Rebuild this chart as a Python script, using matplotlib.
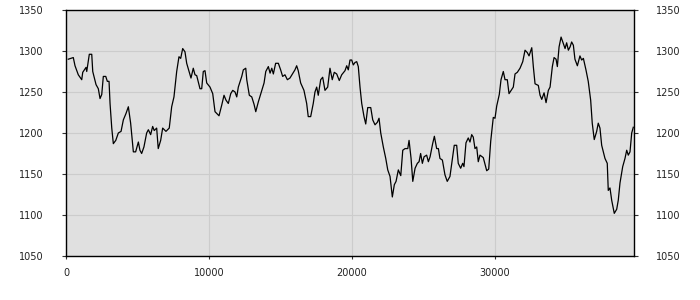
import matplotlib
matplotlib.use("Agg")
import matplotlib.pyplot as plt

# values
xs = [160, 510, 630, 860, 1100, 1170, 1400, 1450, 1630, 1800,
      1870, 2100, 2260, 2380, 2500, 2610, 2780, 2890, 3010, 3080,
      3200, 3310, 3480, 3660, 3850, 4010, 4200, 4360, 4520, 4710,
      4870, 5060, 5170, 5290, 5450, 5640, 5760, 5920, 6060, 6170,
      6340, 6450, 6620, 6760, 6990, 7220, 7390, 7550, 7740, 7900,
      8020, 8160, 8320, 8440, 8740, 8900, 9020, 9140, 9370, 9490,
      9600, 9720, 9840, 10070, 10260, 10420, 10700, 10890, 11050, 11190,
      11350, 11520, 11660, 11820, 11940, 12050, 12290, 12400, 12570, 12640,
      12820, 12990, 13150, 13270, 13450, 13690, 13850, 13970, 14150, 14270,
      14390, 14500, 14660, 14850, 15010, 15150, 15310, 15480, 15660, 16010,
      16130, 16240, 16410, 16640, 16830, 16940, 17110, 17290, 17410, 17530,
      17640, 17810, 17950, 18110, 18300, 18460, 18620, 18760, 18930, 19110,
      19280, 19510, 19630, 19740, 19860, 19980, 20090, 20210, 20330, 20440,
      20560, 20680, 20840, 20960, 21100, 21310, 21450, 21610, 21770, 21890,
      22010, 22190, 22360, 22500, 22660, 22820, 22960, 23080, 23240, 23410,
      23550, 23710, 23900, 23990, 24130, 24250, 24410, 24570, 24690, 24800,
      24920, 25040, 25220, 25340, 25460, 25640, 25760, 25920, 26040, 26150,
      26320, 26500, 26660, 26850, 27010, 27150, 27320, 27430, 27600, 27740,
      27830, 27970, 28130, 28250, 28370, 28480, 28600, 28720, 28830, 28950,
      29180, 29420, 29560, 29700, 29880, 30000, 30120, 30300, 30420, 30580,
      30700, 30860, 30980, 31170, 31280, 31400, 31560, 31750, 31940, 32100,
      32260, 32380, 32570, 32680, 32800, 33030, 33150, 33270, 33430, 33570,
      33730, 33850, 34010, 34130, 34270, 34360, 34480, 34620, 34780, 34900,
      35010, 35130, 35250, 35360, 35480, 35590, 35760, 35940, 36060, 36180,
      36360, 36520, 36690, 36800, 36940, 37110, 37220, 37340, 37460, 37690,
      37850, 37920, 38040, 38160, 38340, 38510, 38620, 38740, 38930, 39090,
      39210, 39320, 39440, 39560, 39670]
ys = [1290, 1292, 1282, 1271, 1265, 1274, 1280, 1275, 1296, 1296,
      1275, 1259, 1254, 1242, 1247, 1269, 1269, 1263, 1263, 1236,
      1206, 1187, 1191, 1200, 1202, 1216, 1224, 1232, 1212, 1177,
      1177, 1189, 1179, 1175, 1183, 1200, 1204, 1198, 1208, 1203,
      1206, 1181, 1191, 1206, 1202, 1206, 1232, 1244, 1275, 1293,
      1291, 1303, 1299, 1285, 1267, 1279, 1271, 1270, 1254, 1254,
      1275, 1276, 1261, 1256, 1248, 1226, 1221, 1234, 1246, 1240,
      1236, 1248, 1252, 1250, 1244, 1256, 1269, 1277, 1279, 1265,
      1246, 1244, 1235, 1226, 1238, 1252, 1261, 1275, 1281, 1273,
      1279, 1272, 1285, 1285, 1277, 1269, 1271, 1265, 1267, 1277,
      1282, 1276, 1261, 1252, 1236, 1220, 1220, 1236, 1250, 1256,
      1246, 1265, 1268, 1252, 1256, 1279, 1265, 1274, 1272, 1264,
      1271, 1276, 1282, 1277, 1289, 1289, 1283, 1286, 1287, 1281,
      1256, 1236, 1220, 1211, 1231, 1231, 1216, 1210, 1213, 1218,
      1200, 1183, 1169, 1155, 1147, 1122, 1137, 1141, 1155, 1148,
      1179, 1181, 1181, 1191, 1169, 1141, 1157, 1163, 1165, 1175,
      1163, 1171, 1173, 1165, 1171, 1187, 1196, 1181, 1181, 1169,
      1167, 1149, 1141, 1147, 1167, 1185, 1185, 1163, 1157, 1163,
      1159, 1188, 1194, 1189, 1198, 1195, 1181, 1183, 1165, 1173,
      1170, 1154, 1156, 1190, 1219, 1218, 1233, 1247, 1265, 1275,
      1265, 1265, 1248, 1253, 1256, 1272, 1274, 1279, 1287, 1301,
      1298, 1294, 1304, 1281, 1260, 1258, 1246, 1241, 1249, 1237,
      1252, 1256, 1281, 1292, 1290, 1281, 1305, 1317, 1309, 1303,
      1310, 1301, 1305, 1311, 1307, 1290, 1282, 1294, 1289, 1291,
      1277, 1263, 1240, 1212, 1192, 1202, 1212, 1206, 1185, 1169,
      1163, 1130, 1133, 1118, 1102, 1107, 1118, 1139, 1159, 1169,
      1179, 1173, 1177, 1200, 1207]

xticks = [0, 10000, 20000, 30000]
yticks = [1050, 1100, 1150, 1200, 1250, 1300, 1350]

fig = plt.figure(figsize=(7, 3), dpi=100)
ax = fig.add_axes([66 / 700, 44 / 300, 568 / 700, 246 / 300])
ax.set_facecolor("#e0e0e0")
ax.plot(xs, ys, color="black", linewidth=0.9)

ax.set_xlim(0, 39720)
ax.set_ylim(1050, 1350)
ax.set_xticks(xticks)
ax.set_yticks(yticks)
ax.grid(True, color="#cccccc", linewidth=0.8)
ax.set_axisbelow(True)

ax.tick_params(axis="both", direction="out", width=0.8,
               colors="#333333", labelsize=7, labelcolor="#222222")
ax.tick_params(axis="y", left=True, right=True, labelleft=True,
               labelright=True, length=3, pad=13)
ax.tick_params(axis="x", length=2, pad=7)
for s in ax.spines.values():
    s.set_color("black")
    s.set_linewidth(1.0)

fig.savefig("out.png", dpi=100)
